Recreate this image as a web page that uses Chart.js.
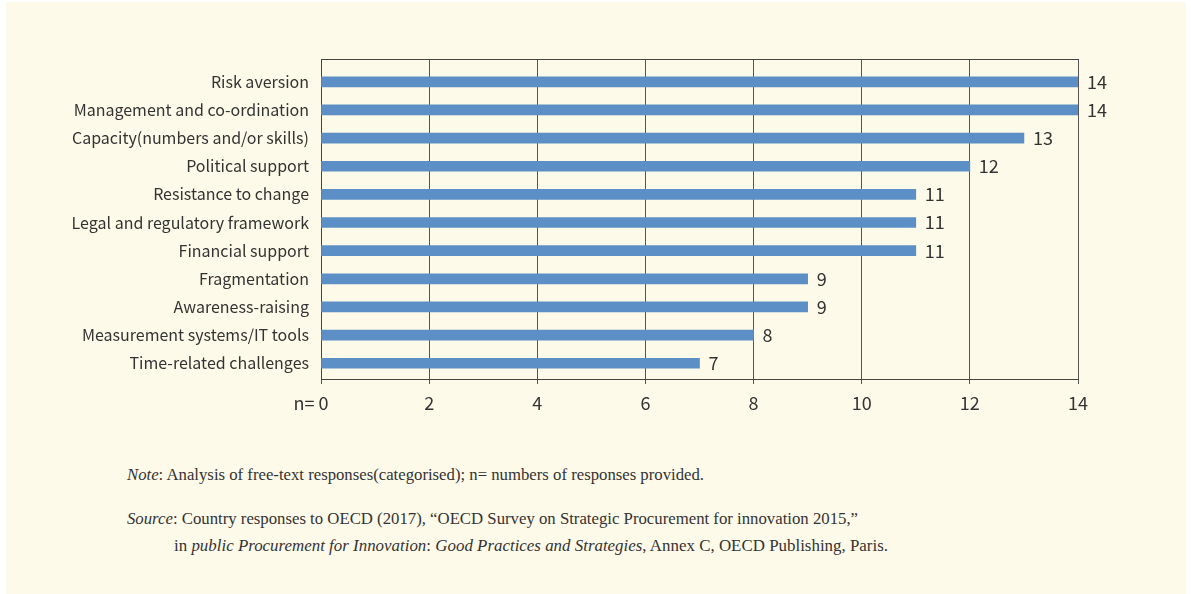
<!DOCTYPE html>
<html>
<head>
<meta charset="utf-8">
<script src="https://cdn.jsdelivr.net/npm/chart.js@4/dist/chart.umd.min.js"></script>
<style>
  html, body { margin: 0; padding: 0; background: #ffffff; }
  #panel { position: absolute; left: 6px; top: 2px; width: 1180px; height: 592px; background: #fefae9; }
  #wrap { position: absolute; left: 0; top: 0; width: 1180px; height: 440px; }
  .note { position: absolute; font-family: "Liberation Serif", "Times New Roman", serif; font-size: 17px; color: #333; white-space: nowrap; transform-origin: 0 50%; }
  .note i { font-style: italic; font-family: "Liberation Serif", serif; }
</style>
</head>
<body>
<div id="panel">
  <div id="wrap"><canvas id="c" width="1180" height="440"></canvas></div>
  <div class="note" id="n1" style="left:121px; top:463px;"><i>Note</i>: Analysis of free-text responses(categorised); n= numbers of responses provided.</div>
  <div class="note" id="n2" style="left:121px; top:507px;"><i>Source</i>: Country responses to OECD (2017), “OECD Survey on Strategic Procurement for innovation 2015,”</div>
  <div class="note" id="n3" style="left:168px; top:534px;">in <i>public Procurement for Innovation</i>: <i>Good Practices and Strategies</i>, Annex C, OECD Publishing, Paris.</div>
</div>
<script>
const categories = [
  "Risk aversion",
  "Management and co-ordination",
  "Capacity(numbers and/or skills)",
  "Political support",
  "Resistance to change",
  "Legal and regulatory framework",
  "Financial support",
  "Fragmentation",
  "Awareness-raising",
  "Measurement systems/IT tools",
  "Time-related challenges"
];
const responses = [14, 14, 13, 12, 11, 11, 11, 9, 9, 8, 7];
const xTicks = [0, 2, 4, 6, 8, 10, 12, 14];

// fit footnote lines to reference widths
const targets = { n1: 577, n2: 731, n3: 714 };
Object.keys(targets).forEach(id => {
  const el = document.getElementById(id);
  const w = el.getBoundingClientRect().width;
  el.style.transform = 'scaleX(' + (targets[id] / w) + ')';
});

const valueLabels = {
  id: 'valueLabels',
  afterDatasetsDraw(chart) {
    const ctx = chart.ctx;
    const meta = chart.getDatasetMeta(0);
    ctx.save();
    ctx.font = '18px "Noto Sans CJK KR", "Noto Sans", sans-serif';
    ctx.fillStyle = '#333333';
    ctx.textAlign = 'left';
    ctx.textBaseline = 'middle';
    meta.data.forEach((bar, i) => {
      ctx.fillText(String(responses[i]), bar.x + 9, bar.y);
    });
    ctx.restore();
  }
};

const gridColor = '#555555';

new Chart(document.getElementById('c'), {
  type: 'bar',
  data: {
    datasets: [{
      data: responses.map((v, i) => ({ x: v, y: i })),
      backgroundColor: '#5b8fc5',
      borderWidth: 0,
      barThickness: 10,
      xAxisID: 'x',
      yAxisID: 'y'
    }]
  },
  options: {
    indexAxis: 'y',
    responsive: false,
    animation: false,
    layout: { padding: { left: 0, right: 108, top: 57, bottom: 23 } },
    plugins: { legend: { display: false }, tooltip: { enabled: false } },
    scales: {
      x: {
        type: 'linear',
        position: 'bottom',
        min: 0, max: 14,
        offset: false,
        afterBuildTicks: s => { s.ticks = xTicks.map(v => ({ value: v })); },
        afterFit: s => { s.height = 40; },
        grid: { color: gridColor, lineWidth: 1, tickLength: 5, drawTicks: true, offset: false },
        border: { display: true, color: '#444444', width: 1 },
        ticks: {
          padding: 8,
          color: '#333333',
          font: { family: '"Noto Sans CJK KR", "Noto Sans", sans-serif', size: 18 },
          callback: v => v === 0 ? 'n= 0     ' : String(v)
        }
      },
      x2: {
        type: 'linear',
        position: 'top',
        min: 0, max: 14,
        afterFit: s => { s.height = 0; },
        grid: { display: false },
        ticks: { display: false },
        border: { display: true, color: '#444444', width: 1 }
      },
      y: {
        type: 'linear',
        reverse: true,
        offset: false,
        min: -0.81, max: 10.56,
        afterBuildTicks: s => { s.ticks = categories.map((c, i) => ({ value: i })); },
        afterFit: s => { s.width = 315; },
        grid: { display: false, drawTicks: false, tickLength: 0, offset: false },
        border: { display: true, color: '#444444', width: 1 },
        ticks: {
          padding: 12,
          autoSkip: false,
          color: '#333333',
          font: { family: '"Noto Sans CJK KR", "Noto Sans", sans-serif', size: 16 },
          callback: v => categories[v]
        }
      }
    }
  },
  plugins: [valueLabels]
});
</script>
</body>
</html>
